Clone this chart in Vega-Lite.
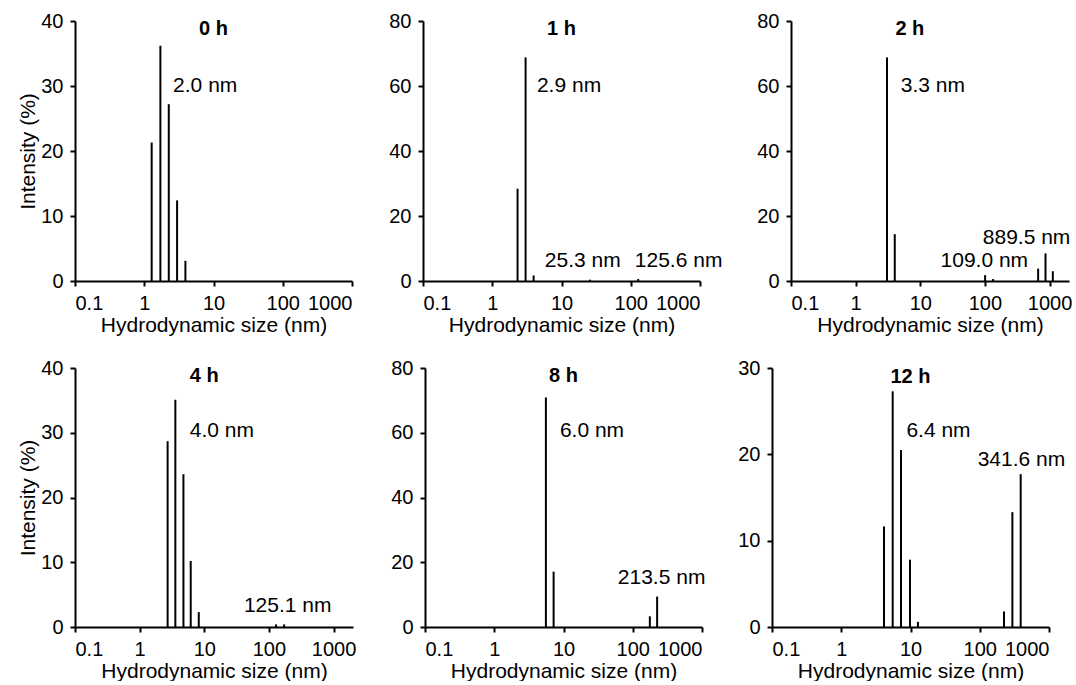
{
  "$schema": "https://vega.github.io/schema/vega-lite/v6.json",
  "background": "white",
  "padding": {"left": 17, "top": 11, "right": 0, "bottom": 0},
  "datasets": {
    "bars": [
      {"panel": "0 h", "size": 1.28, "intensity": 21.3},
      {"panel": "0 h", "size": 1.71, "intensity": 36.2},
      {"panel": "0 h", "size": 2.26, "intensity": 27.2},
      {"panel": "0 h", "size": 2.98, "intensity": 12.4},
      {"panel": "0 h", "size": 3.93, "intensity": 3.1},
      {"panel": "1 h", "size": 2.32, "intensity": 28.4},
      {"panel": "1 h", "size": 3.03, "intensity": 68.8},
      {"panel": "1 h", "size": 3.96, "intensity": 1.7},
      {"panel": "1 h", "size": 25.7, "intensity": 0.4},
      {"panel": "1 h", "size": 128, "intensity": 0.6},
      {"panel": "2 h", "size": 3.06, "intensity": 68.8},
      {"panel": "2 h", "size": 4.03, "intensity": 14.4},
      {"panel": "2 h", "size": 100.7, "intensity": 1.8},
      {"panel": "2 h", "size": 134, "intensity": 0.6},
      {"panel": "2 h", "size": 666, "intensity": 3.8},
      {"panel": "2 h", "size": 866, "intensity": 8.5},
      {"panel": "2 h", "size": 1124, "intensity": 3.0},
      {"panel": "4 h", "size": 2.71, "intensity": 28.7},
      {"panel": "4 h", "size": 3.57, "intensity": 35.1},
      {"panel": "4 h", "size": 4.76, "intensity": 23.6},
      {"panel": "4 h", "size": 6.17, "intensity": 10.2},
      {"panel": "4 h", "size": 8.22, "intensity": 2.3},
      {"panel": "4 h", "size": 129, "intensity": 0.4},
      {"panel": "4 h", "size": 172, "intensity": 0.4},
      {"panel": "8 h", "size": 5.57, "intensity": 70.9},
      {"panel": "8 h", "size": 7.2, "intensity": 17.1},
      {"panel": "8 h", "size": 176.6, "intensity": 3.3},
      {"panel": "8 h", "size": 225, "intensity": 9.4},
      {"panel": "12 h", "size": 4.14, "intensity": 11.65},
      {"panel": "12 h", "size": 5.53, "intensity": 27.3},
      {"panel": "12 h", "size": 7.29, "intensity": 20.5},
      {"panel": "12 h", "size": 9.84, "intensity": 7.8},
      {"panel": "12 h", "size": 12.8, "intensity": 0.6},
      {"panel": "12 h", "size": 224, "intensity": 1.8},
      {"panel": "12 h", "size": 296, "intensity": 13.3},
      {"panel": "12 h", "size": 390, "intensity": 17.7}
    ],
    "labels": [
      {"panel": "0 h", "text": "2.0 nm", "size": 2.61, "intensity": 30.0},
      {"panel": "1 h", "text": "2.9 nm", "size": 4.42, "intensity": 60},
      {"panel": "1 h", "text": "25.3 nm", "size": 5.75, "intensity": 6.15},
      {"panel": "1 h", "text": "125.6 nm", "size": 114.5, "intensity": 6.15},
      {"panel": "2 h", "text": "3.3 nm", "size": 4.99, "intensity": 60},
      {"panel": "2 h", "text": "889.5 nm", "size": 92.7, "intensity": 13.3},
      {"panel": "2 h", "text": "109.0 nm", "size": 20.6, "intensity": 6.15},
      {"panel": "4 h", "text": "4.0 nm", "size": 5.96, "intensity": 30.3},
      {"panel": "4 h", "text": "125.1 nm", "size": 41.0, "intensity": 3.18},
      {"panel": "8 h", "text": "6.0 nm", "size": 8.87, "intensity": 60.6},
      {"panel": "8 h", "text": "213.5 nm", "size": 60.9, "intensity": 15.2},
      {"panel": "12 h", "text": "6.4 nm", "size": 8.73, "intensity": 22.7},
      {"panel": "12 h", "text": "341.6 nm", "size": 93.3, "intensity": 19.4}
    ],
    "titles": [
      {"panel": "0 h", "size": 10, "intensity": 38.8},
      {"panel": "1 h", "size": 10, "intensity": 77.5},
      {"panel": "2 h", "size": 6.9, "intensity": 77.5},
      {"panel": "4 h", "size": 10, "intensity": 38.7},
      {"panel": "8 h", "size": 10, "intensity": 77.4},
      {"panel": "12 h", "size": 10, "intensity": 29.0}
    ]
  },
  "vconcat": [
    {
      "hconcat": [
        {
          "hconcat": [
            {
              "width": 277, "height": 260,
              "layer": [
                {"data": {"name": "bars"}, "transform": [{"filter": "datum.panel === '0 h'"}],
                 "mark": {"type": "rule", "strokeWidth": 2, "color": "black"},
                 "encoding": {
                   "x": {"field": "size", "type": "quantitative", "scale": {"type": "log", "domain": [0.1, 1000]}, "axis": {"values": [0.1, 1, 10, 100, 1000], "format": "~g", "title": "Hydrodynamic size (nm)"}},
                   "y": {"field": "intensity", "type": "quantitative", "scale": {"domain": [0, 40]}, "axis": {"values": [0, 10, 20, 30, 40], "title": "Intensity (%)"}},
                   "y2": {"datum": 0}}},
                {"data": {"name": "labels"}, "transform": [{"filter": "datum.panel === '0 h'"}],
                 "mark": {"type": "text", "align": "left", "baseline": "middle", "fontSize": 21},
                 "encoding": {"x": {"field": "size", "type": "quantitative", "scale": {"type": "log", "domain": [0.1, 1000]}}, "y": {"field": "intensity", "type": "quantitative", "scale": {"domain": [0, 40]}}, "text": {"field": "text"}}},
                {"data": {"name": "titles"}, "transform": [{"filter": "datum.panel === '0 h'"}],
                 "mark": {"type": "text", "align": "center", "baseline": "middle", "fontSize": 20, "fontWeight": "bold"},
                 "encoding": {"x": {"field": "size", "type": "quantitative", "scale": {"type": "log", "domain": [0.1, 1000]}}, "y": {"field": "intensity", "type": "quantitative", "scale": {"domain": [0, 40]}}, "text": {"field": "panel"}}}
              ]
            },
            {
              "width": 277, "height": 260,
              "layer": [
                {"data": {"name": "bars"}, "transform": [{"filter": "datum.panel === '1 h'"}],
                 "mark": {"type": "rule", "strokeWidth": 2, "color": "black"},
                 "encoding": {
                   "x": {"field": "size", "type": "quantitative", "scale": {"type": "log", "domain": [0.1, 1000]}, "axis": {"values": [0.1, 1, 10, 100, 1000], "format": "~g", "title": "Hydrodynamic size (nm)"}},
                   "y": {"field": "intensity", "type": "quantitative", "scale": {"domain": [0, 80]}, "axis": {"values": [0, 20, 40, 60, 80], "title": null}},
                   "y2": {"datum": 0}}},
                {"data": {"name": "labels"}, "transform": [{"filter": "datum.panel === '1 h'"}],
                 "mark": {"type": "text", "align": "left", "baseline": "middle", "fontSize": 21},
                 "encoding": {"x": {"field": "size", "type": "quantitative", "scale": {"type": "log", "domain": [0.1, 1000]}}, "y": {"field": "intensity", "type": "quantitative", "scale": {"domain": [0, 80]}}, "text": {"field": "text"}}},
                {"data": {"name": "titles"}, "transform": [{"filter": "datum.panel === '1 h'"}],
                 "mark": {"type": "text", "align": "center", "baseline": "middle", "fontSize": 20, "fontWeight": "bold"},
                 "encoding": {"x": {"field": "size", "type": "quantitative", "scale": {"type": "log", "domain": [0.1, 1000]}}, "y": {"field": "intensity", "type": "quantitative", "scale": {"domain": [0, 80]}}, "text": {"field": "panel"}}}
              ]
            }
          ],
          "spacing": 35
        },
        {
          "width": 278, "height": 260,
          "layer": [
            {"data": {"name": "bars"}, "transform": [{"filter": "datum.panel === '2 h'"}],
             "mark": {"type": "rule", "strokeWidth": 2, "color": "black"},
             "encoding": {
               "x": {"field": "size", "type": "quantitative", "scale": {"type": "log", "domain": [0.1, 2000]}, "axis": {"values": [0.1, 1, 10, 100, 1000], "format": "~g", "title": "Hydrodynamic size (nm)"}},
               "y": {"field": "intensity", "type": "quantitative", "scale": {"domain": [0, 80]}, "axis": {"values": [0, 20, 40, 60, 80], "title": null}},
               "y2": {"datum": 0}}},
            {"data": {"name": "labels"}, "transform": [{"filter": "datum.panel === '2 h'"}],
             "mark": {"type": "text", "align": "left", "baseline": "middle", "fontSize": 21},
             "encoding": {"x": {"field": "size", "type": "quantitative", "scale": {"type": "log", "domain": [0.1, 2000]}}, "y": {"field": "intensity", "type": "quantitative", "scale": {"domain": [0, 80]}}, "text": {"field": "text"}}},
            {"data": {"name": "titles"}, "transform": [{"filter": "datum.panel === '2 h'"}],
             "mark": {"type": "text", "align": "center", "baseline": "middle", "fontSize": 20, "fontWeight": "bold"},
             "encoding": {"x": {"field": "size", "type": "quantitative", "scale": {"type": "log", "domain": [0.1, 2000]}}, "y": {"field": "intensity", "type": "quantitative", "scale": {"domain": [0, 80]}}, "text": {"field": "panel"}}}
          ]
        }
      ],
      "spacing": 33
    },
    {
      "hconcat": [
        {
          "width": 278, "height": 259,
          "layer": [
            {"data": {"name": "bars"}, "transform": [{"filter": "datum.panel === '4 h'"}],
             "mark": {"type": "rule", "strokeWidth": 2, "color": "black"},
             "encoding": {
               "x": {"field": "size", "type": "quantitative", "scale": {"type": "log", "domain": [0.1, 2000]}, "axis": {"values": [0.1, 1, 10, 100, 1000], "format": "~g", "title": "Hydrodynamic size (nm)"}},
               "y": {"field": "intensity", "type": "quantitative", "scale": {"domain": [0, 40]}, "axis": {"values": [0, 10, 20, 30, 40], "title": "Intensity (%)"}},
               "y2": {"datum": 0}}},
            {"data": {"name": "labels"}, "transform": [{"filter": "datum.panel === '4 h'"}],
             "mark": {"type": "text", "align": "left", "baseline": "middle", "fontSize": 21},
             "encoding": {"x": {"field": "size", "type": "quantitative", "scale": {"type": "log", "domain": [0.1, 2000]}}, "y": {"field": "intensity", "type": "quantitative", "scale": {"domain": [0, 40]}}, "text": {"field": "text"}}},
            {"data": {"name": "titles"}, "transform": [{"filter": "datum.panel === '4 h'"}],
             "mark": {"type": "text", "align": "center", "baseline": "middle", "fontSize": 20, "fontWeight": "bold"},
             "encoding": {"x": {"field": "size", "type": "quantitative", "scale": {"type": "log", "domain": [0.1, 2000]}}, "y": {"field": "intensity", "type": "quantitative", "scale": {"domain": [0, 40]}}, "text": {"field": "panel"}}}
          ]
        },
        {
          "hconcat": [
            {
              "width": 277, "height": 259,
              "layer": [
                {"data": {"name": "bars"}, "transform": [{"filter": "datum.panel === '8 h'"}],
                 "mark": {"type": "rule", "strokeWidth": 2, "color": "black"},
                 "encoding": {
                   "x": {"field": "size", "type": "quantitative", "scale": {"type": "log", "domain": [0.1, 1000]}, "axis": {"values": [0.1, 1, 10, 100, 1000], "format": "~g", "title": "Hydrodynamic size (nm)"}},
                   "y": {"field": "intensity", "type": "quantitative", "scale": {"domain": [0, 80]}, "axis": {"values": [0, 20, 40, 60, 80], "title": null}},
                   "y2": {"datum": 0}}},
                {"data": {"name": "labels"}, "transform": [{"filter": "datum.panel === '8 h'"}],
                 "mark": {"type": "text", "align": "left", "baseline": "middle", "fontSize": 21},
                 "encoding": {"x": {"field": "size", "type": "quantitative", "scale": {"type": "log", "domain": [0.1, 1000]}}, "y": {"field": "intensity", "type": "quantitative", "scale": {"domain": [0, 80]}}, "text": {"field": "text"}}},
                {"data": {"name": "titles"}, "transform": [{"filter": "datum.panel === '8 h'"}],
                 "mark": {"type": "text", "align": "center", "baseline": "middle", "fontSize": 20, "fontWeight": "bold"},
                 "encoding": {"x": {"field": "size", "type": "quantitative", "scale": {"type": "log", "domain": [0.1, 1000]}}, "y": {"field": "intensity", "type": "quantitative", "scale": {"domain": [0, 80]}}, "text": {"field": "panel"}}}
              ]
            },
            {
              "width": 277, "height": 259,
              "layer": [
                {"data": {"name": "bars"}, "transform": [{"filter": "datum.panel === '12 h'"}],
                 "mark": {"type": "rule", "strokeWidth": 2, "color": "black"},
                 "encoding": {
                   "x": {"field": "size", "type": "quantitative", "scale": {"type": "log", "domain": [0.1, 1000]}, "axis": {"values": [0.1, 1, 10, 100, 1000], "format": "~g", "title": "Hydrodynamic size (nm)"}},
                   "y": {"field": "intensity", "type": "quantitative", "scale": {"domain": [0, 30]}, "axis": {"values": [0, 10, 20, 30], "title": null}},
                   "y2": {"datum": 0}}},
                {"data": {"name": "labels"}, "transform": [{"filter": "datum.panel === '12 h'"}],
                 "mark": {"type": "text", "align": "left", "baseline": "middle", "fontSize": 21},
                 "encoding": {"x": {"field": "size", "type": "quantitative", "scale": {"type": "log", "domain": [0.1, 1000]}}, "y": {"field": "intensity", "type": "quantitative", "scale": {"domain": [0, 30]}}, "text": {"field": "text"}}},
                {"data": {"name": "titles"}, "transform": [{"filter": "datum.panel === '12 h'"}],
                 "mark": {"type": "text", "align": "center", "baseline": "middle", "fontSize": 20, "fontWeight": "bold"},
                 "encoding": {"x": {"field": "size", "type": "quantitative", "scale": {"type": "log", "domain": [0.1, 1000]}}, "y": {"field": "intensity", "type": "quantitative", "scale": {"domain": [0, 30]}}, "text": {"field": "panel"}}}
              ]
            }
          ],
          "spacing": 31
        }
      ],
      "spacing": 34
    }
  ],
  "spacing": 23,
  "config": {
    "font": "Liberation Sans",
    "view": {"stroke": null},
    "text": {"font": "Liberation Sans", "color": "black"},
    "axis": {
      "grid": false,
      "domainColor": "black",
      "domainWidth": 2,
      "tickColor": "black",
      "tickWidth": 2,
      "tickSize": 5,
      "labelColor": "black",
      "labelFont": "Liberation Sans",
      "labelFontSize": 20,
      "labelPadding": 7,
      "titleColor": "black",
      "titleFont": "Liberation Sans",
      "titleFontSize": 21,
      "titleFontWeight": "normal",
      "titlePadding": 1
    },
    "axisY": {"labelPadding": 7, "titlePadding": 2}
  }
}
